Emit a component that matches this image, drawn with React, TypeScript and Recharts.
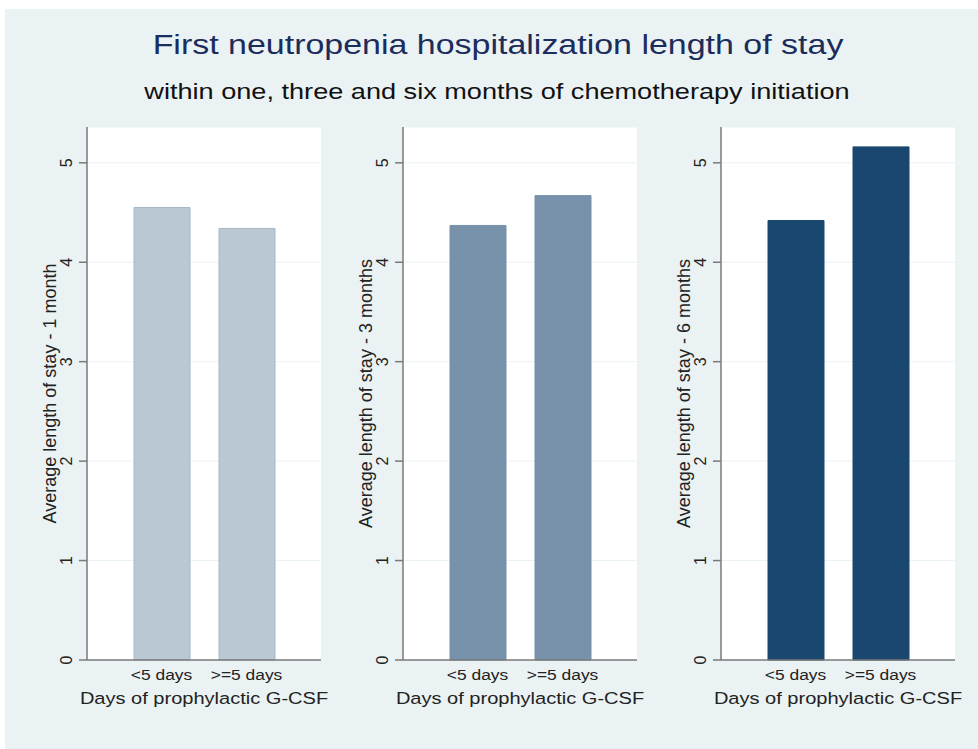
import React from "react";
import { Bar, BarChart, CartesianGrid, XAxis, YAxis } from "recharts";

const categories = ["<5 days", ">=5 days"];
const oneMonth = [4.55, 4.34];
const threeMonths = [4.37, 4.67];
const sixMonths = [4.42, 5.16];
const yTicks = [0, 1, 2, 3, 4, 5];
const yTitles = [
  "Average length of stay - 1 month",
  "Average length of stay - 3 months",
  "Average length of stay - 6 months",
];
const xTitle = "Days of prophylactic G-CSF";
const title = "First neutropenia hospitalization length of stay";
const subtitle = "within one, three and six months of chemotherapy initiation";

const FONT = "'Liberation Sans', Arial, Helvetica, sans-serif";
const BG = "#EAF2F3";
const AXIS = "#7a7a7a";

const panels = [
  { values: oneMonth, fill: "#BAC8D4", stroke: "#A6B7C7", left: 0, yTitle: yTitles[0] },
  { values: threeMonths, fill: "#7691A9", stroke: "#7691A9", left: 316, yTitle: yTitles[1] },
  { values: sixMonths, fill: "#1A476F", stroke: "#1A476F", left: 634, yTitle: yTitles[2] },
];

function YTick(props: any) {
  const { x, y, payload } = props;
  const bx = x - 7;
  return (
    <text
      x={bx}
      y={y}
      transform={`rotate(-90, ${bx}, ${y})`}
      textAnchor="middle"
      fontFamily={FONT}
      fontSize={16}
      fill="#222"
    >
      {payload.value}
    </text>
  );
}

function XTick(props: any) {
  const { x, y, payload } = props;
  return (
    <text
      transform={`translate(${x}, ${y + 20}) scale(1.2, 1)`}
      textAnchor="middle"
      fontFamily={FONT}
      fontSize={14.5}
      fill="#222"
    >
      {payload.value}
    </text>
  );
}

function Panel({ panel }: { panel: (typeof panels)[number] }) {
  const data = categories.map((name, i) => ({ name, value: panel.values[i] }));
  return (
    <div style={{ position: "absolute", left: panel.left, top: 0 }}>
      <BarChart width={341} height={749} data={data} margin={{ top: 127, right: 20, bottom: 0, left: 0 }}>
        <CartesianGrid fill="#ffffff" vertical={false} stroke={BG} strokeWidth={1} />
        <XAxis
          dataKey="name"
          height={89}
          padding={{ left: 32, right: 32 }}
          axisLine={{ stroke: AXIS, strokeWidth: 1.5 }}
          tickLine={false}
          tickSize={0}
          tickMargin={0}
          tick={<XTick />}
          label={{
            content: (p: any) => {
              const vb = p.viewBox;
              return (
                <text
                  transform={`translate(${vb.x + vb.width / 2}, ${vb.y + 44}) scale(1.2, 1)`}
                  textAnchor="middle"
                  fontFamily={FONT}
                  fontSize={16.7}
                  fill="#222"
                >
                  {xTitle}
                </text>
              );
            },
          }}
        />
        <YAxis
          type="number"
          domain={[0, 5.36]}
          ticks={yTicks}
          width={87}
          axisLine={{ stroke: AXIS, strokeWidth: 1.5 }}
          tickLine={{ stroke: AXIS, strokeWidth: 1.5 }}
          tickSize={8}
          tickMargin={0}
          tick={<YTick />}
          label={{
            content: (p: any) => {
              const vb = p.viewBox;
              const bx = vb.x + vb.width - 31;
              const cy = vb.y + vb.height / 2;
              return (
                <text
                  x={bx}
                  y={cy}
                  transform={`rotate(-90, ${bx}, ${cy})`}
                  textAnchor="middle"
                  fontFamily={FONT}
                  fontSize={18}
                  fill="#222"
                >
                  {panel.yTitle}
                </text>
              );
            },
          }}
        />
        <Bar dataKey="value" barSize={56} fill={panel.fill} stroke={panel.stroke} strokeWidth={1} isAnimationActive={false} />
      </BarChart>
    </div>
  );
}

export default function App() {
  return (
    <div style={{ position: "absolute", left: 0, top: 0, width: 978, height: 749, background: "#ffffff", overflow: "hidden" }}>
      <div style={{ position: "absolute", left: 5, top: 9, width: 973, height: 740, background: BG }} />
      <svg width={978} height={130} style={{ position: "absolute", left: 0, top: 0 }}>
        <text
          transform="translate(498, 54) scale(1.2, 1)"
          textAnchor="middle"
          fontFamily={FONT}
          fontSize={28.3}
          fill="#1C2C5B"
        >
          {title}
        </text>
        <text
          transform="translate(497, 99) scale(1.2, 1)"
          textAnchor="middle"
          fontFamily={FONT}
          fontSize={22.6}
          fill="#111"
        >
          {subtitle}
        </text>
      </svg>
      {panels.map((panel, i) => (
        <Panel key={i} panel={panel} />
      ))}
    </div>
  );
}
